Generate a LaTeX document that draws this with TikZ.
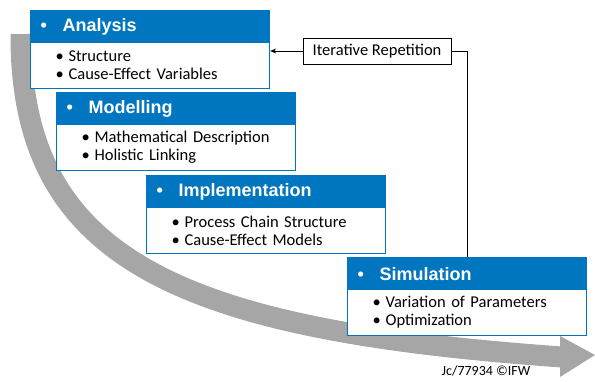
\documentclass[tikz,border=0pt]{standalone}
\usepackage{fontspec}
\setmainfont{Carlito}
\newfontfamily\headfont{Liberation Sans}
\usetikzlibrary{arrows.meta}
\definecolor{ifwblue}{RGB}{0,118,192}
\definecolor{ifwgray}{RGB}{166,166,166}
\tikzset{
  head/.style={anchor=north west, fill=ifwblue, draw=ifwblue, line width=1.2pt,
    text=white, font=\headfont\bfseries\fontsize{18}{20}\selectfont,
    minimum width=239pt, minimum height=32pt, text width=219pt,
    inner xsep=10pt, align=left},
  body/.style={anchor=north west, fill=white, draw=ifwblue, line width=1.2pt,
    font=\fontsize{16.5}{18}\selectfont, minimum width=239pt, minimum height=46pt,
    text width=189pt, inner xsep=25pt, inner ysep=2pt, align=left},
  repbox/.style={draw, line width=0.8pt, fill=white, minimum width=148pt,
    minimum height=26pt, font=\fontsize{16.5}{18}\selectfont}
}
\newcommand{\hb}{\makebox[22pt][l]{\textbullet}}
\newcommand{\bb}{\makebox[13pt][l]{\textbullet}}
\begin{document}
\begin{tikzpicture}[x=1pt,y=-1pt]
  \useasboundingbox (0,0) rectangle (595,381);
  \draw[ifwgray, line width=21pt] (21,34) .. controls (20,260) and (180,330) .. (562,357);
  \fill[ifwgray] (560,336) -- (595,355) -- (560,377) -- cycle;
  \node[head] (ana) at (30,10) {\hb Analysis};
  \node[body] (anab) at (30,42) {\bb Structure\\ \bb Cause-Effect Variables};
  \node[head] (mod) at (56,92) {\hb Modelling};
  \node[body] (modb) at (56,124) {\bb Mathematical Description\\ \bb Holistic Linking};
  \node[head] (imp) at (146,175) {\hb Implementation};
  \node[body] (impb) at (146,207) {\bb Process Chain Structure\\ \bb Cause-Effect Models};
  \node[head] (sim) at (347,257) {\hb Simulation};
  \node[body] (simb) at (347,289) {\bb Variation of Parameters\\ \bb Optimization};
  \node[repbox] (rep) at (377,51) {Iterative Repetition};
  \node[font=\fontsize{14}{16}\selectfont] (ref) at (486,371) {Jc/77934 ©IFW};
  \begin{scope}[line width=0.8pt]
    \draw[-{Stealth[length=6pt,width=5pt]}] (rep.west) -- (rep.west -| anab.east);
    \draw (rep.east) -| (sim.north);
  \end{scope}
\end{tikzpicture}
\end{document}
